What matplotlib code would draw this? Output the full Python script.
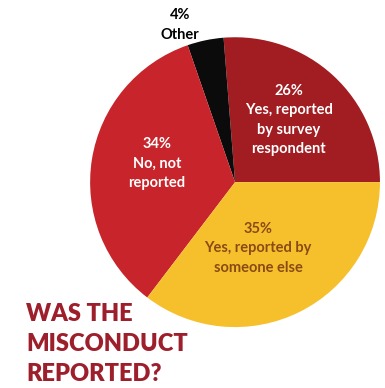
import matplotlib.pyplot as plt

# share of misconduct cases, counter-clockwise from 3 o'clock
labels = ['Yes, reported\nby survey\nrespondent', 'Other', 'No, not\nreported',
          'Yes, reported by\nsomeone else']
shares = [26, 4, 34, 35]
colors = ['#a11d21', '#0b0b0b', '#c8242b', '#f6c02d']

plt.rcParams['font.family'] = ['Lato', 'DejaVu Sans']

fig = plt.figure(figsize=(3.85, 3.88), dpi=100)
ax = fig.add_axes([0.234, 0.157, 0.753, 0.747])

wedges, _ = ax.pie(shares, colors=colors, startangle=0, counterclock=True,
                   radius=1, wedgeprops=dict(linewidth=0))
ax.set_xlim(-1, 1)
ax.set_ylim(-1, 1)
ax.set_aspect('equal')
ax.axis('off')

# label blocks: (x, y, text colour)
spots = [(0.37, 0.43, 'white'), (-0.38, 1.085, 'black'),
         (-0.54, 0.13, 'white'), (0.16, -0.455, '#8a4a14')]
for s, lab, (x, y, c) in zip(shares, labels, spots):
    ax.text(x, y, f'{s}%\n{lab}', ha='center', va='center', color=c,
            fontsize=10.5, fontweight='bold', linespacing=1.5, clip_on=False)

fig.text(0.068, 0.22, 'WAS THE\nMISCONDUCT\nREPORTED?', ha='left', va='top',
         color='#9e1f2c', fontsize=17, fontweight='heavy', linespacing=1.45)

plt.savefig('out.png', dpi=100)
